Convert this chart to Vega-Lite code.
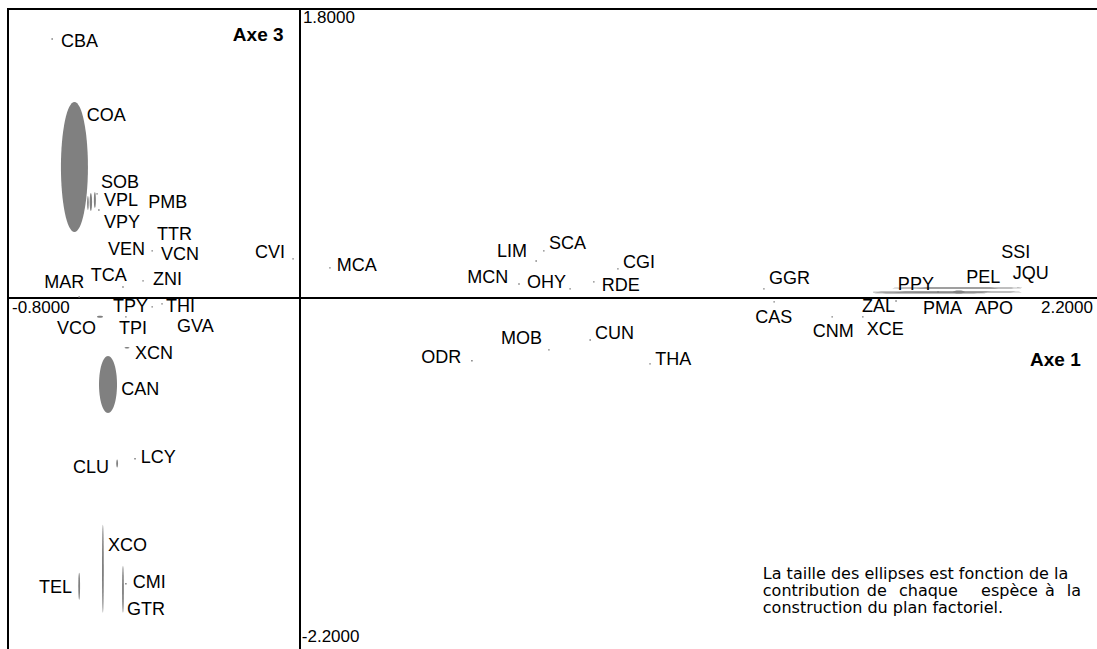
{
  "$schema": "https://vega.github.io/schema/vega-lite/v6.json",
  "width": 1095,
  "height": 642,
  "autosize": {"type": "none"},
  "padding": {"left": 8, "top": 9, "right": 0, "bottom": 0},
  "background": "white",
  "config": {
    "view": {"stroke": "black", "strokeWidth": 2},
    "text": {"font": "Liberation Sans", "color": "black"},
    "axis": {"disable": true}
  },
  "datasets": {
    "origin": [{"v": 0}],
    "ellipses": [
      {"name": "COA", "x": -0.618, "y": 0.816},
      {"name": "CAN", "x": -0.526, "y": -0.539},
      {"name": "XCO", "x": -0.540, "y": -1.687},
      {"name": "GTR", "x": -0.485, "y": -1.815},
      {"name": "TEL", "x": -0.605, "y": -1.796},
      {"name": "CLU", "x": -0.501, "y": -1.031},
      {"name": "VCO", "x": -0.548, "y": -0.118},
      {"name": "XCN", "x": -0.474, "y": -0.311},
      {"name": "SOB", "x": -0.562, "y": 0.610},
      {"name": "VPL", "x": -0.573, "y": 0.598},
      {"name": "VPY", "x": -0.581, "y": 0.592},
      {"name": "PPY", "x": 1.773, "y": 0.037},
      {"name": "PEL", "x": 1.800, "y": 0.062},
      {"name": "PMA", "x": 1.726, "y": 0.031},
      {"name": "APO", "x": 1.805, "y": 0.037}
    ],
    "points": [
      {"name": "CBA", "x": -0.679, "y": 1.613},
      {"name": "SOB", "x": -0.556, "y": 0.648},
      {"name": "VPL", "x": -0.551, "y": 0.548},
      {"name": "VEN", "x": -0.405, "y": 0.293},
      {"name": "CVI", "x": -0.019, "y": 0.243},
      {"name": "MAR", "x": -0.605, "y": 0.006},
      {"name": "TCA", "x": -0.485, "y": 0.068},
      {"name": "ZNI", "x": -0.430, "y": 0.106},
      {"name": "TPY", "x": -0.405, "y": -0.056},
      {"name": "THI", "x": -0.378, "y": -0.037},
      {"name": "TPI", "x": -0.477, "y": -0.118},
      {"name": "LCY", "x": -0.452, "y": -1.002},
      {"name": "CMI", "x": -0.477, "y": -1.781},
      {"name": "MCA", "x": 0.082, "y": 0.187},
      {"name": "LIM", "x": 0.647, "y": 0.230},
      {"name": "SCA", "x": 0.668, "y": 0.293},
      {"name": "CGI", "x": 0.871, "y": 0.181},
      {"name": "MCN", "x": 0.600, "y": 0.087},
      {"name": "OHY", "x": 0.740, "y": 0.056},
      {"name": "RDE", "x": 0.805, "y": 0.100},
      {"name": "MOB", "x": 0.682, "y": -0.324},
      {"name": "CUN", "x": 0.795, "y": -0.262},
      {"name": "ODR", "x": 0.471, "y": -0.392},
      {"name": "THA", "x": 0.959, "y": -0.411},
      {"name": "GGR", "x": 1.271, "y": 0.056},
      {"name": "CAS", "x": 1.299, "y": -0.025},
      {"name": "CNM", "x": 1.458, "y": -0.118},
      {"name": "ZAL", "x": 1.633, "y": -0.019},
      {"name": "XCE", "x": 1.542, "y": -0.118},
      {"name": "PPY", "x": 1.748, "y": 0.037}
    ],
    "labels": [
      {"name": "CBA", "lx": -0.655, "ly": 1.594},
      {"name": "COA", "lx": -0.584, "ly": 1.133},
      {"name": "SOB", "lx": -0.545, "ly": 0.716},
      {"name": "VPL", "lx": -0.537, "ly": 0.604},
      {"name": "PMB", "lx": -0.416, "ly": 0.592},
      {"name": "VPY", "lx": -0.537, "ly": 0.467},
      {"name": "TTR", "lx": -0.392, "ly": 0.392},
      {"name": "VEN", "lx": -0.526, "ly": 0.299},
      {"name": "VCN", "lx": -0.381, "ly": 0.268},
      {"name": "CVI", "lx": -0.123, "ly": 0.280},
      {"name": "MAR", "lx": -0.701, "ly": 0.093},
      {"name": "TCA", "lx": -0.573, "ly": 0.137},
      {"name": "ZNI", "lx": -0.403, "ly": 0.112},
      {"name": "TPY", "lx": -0.512, "ly": -0.056},
      {"name": "THI", "lx": -0.367, "ly": -0.056},
      {"name": "VCO", "lx": -0.666, "ly": -0.193},
      {"name": "TPI", "lx": -0.496, "ly": -0.193},
      {"name": "GVA", "lx": -0.337, "ly": -0.181},
      {"name": "XCN", "lx": -0.452, "ly": -0.349},
      {"name": "CAN", "lx": -0.490, "ly": -0.573},
      {"name": "CLU", "lx": -0.622, "ly": -1.059},
      {"name": "LCY", "lx": -0.436, "ly": -0.996},
      {"name": "XCO", "lx": -0.526, "ly": -1.544},
      {"name": "TEL", "lx": -0.715, "ly": -1.806},
      {"name": "CMI", "lx": -0.458, "ly": -1.775},
      {"name": "GTR", "lx": -0.474, "ly": -1.943},
      {"name": "MCA", "lx": 0.101, "ly": 0.199},
      {"name": "LIM", "lx": 0.540, "ly": 0.286},
      {"name": "SCA", "lx": 0.682, "ly": 0.336},
      {"name": "CGI", "lx": 0.885, "ly": 0.218},
      {"name": "MCN", "lx": 0.458, "ly": 0.125},
      {"name": "OHY", "lx": 0.622, "ly": 0.093},
      {"name": "RDE", "lx": 0.827, "ly": 0.075},
      {"name": "MOB", "lx": 0.551, "ly": -0.255},
      {"name": "CUN", "lx": 0.808, "ly": -0.224},
      {"name": "ODR", "lx": 0.332, "ly": -0.374},
      {"name": "THA", "lx": 0.973, "ly": -0.386},
      {"name": "GGR", "lx": 1.285, "ly": 0.118},
      {"name": "CAS", "lx": 1.247, "ly": -0.125},
      {"name": "CNM", "lx": 1.405, "ly": -0.212},
      {"name": "ZAL", "lx": 1.540, "ly": -0.056},
      {"name": "XCE", "lx": 1.553, "ly": -0.199},
      {"name": "PPY", "lx": 1.638, "ly": 0.081},
      {"name": "PEL", "lx": 1.825, "ly": 0.125},
      {"name": "SSI", "lx": 1.921, "ly": 0.280},
      {"name": "JQU", "lx": 1.953, "ly": 0.149},
      {"name": "PMA", "lx": 1.707, "ly": -0.068},
      {"name": "APO", "lx": 1.849, "ly": -0.068}
    ],
    "ticks": [
      {"text": "1.8000", "lx": 0.008, "ly": 1.743},
      {"text": "-2.2000", "lx": 0.005, "ly": -2.111},
      {"text": "-0.8000", "lx": -0.789, "ly": -0.062},
      {"text": "2.2000", "lx": 2.030, "ly": -0.062}
    ],
    "titles": [
      {"text": "Axe 3", "lx": -0.184, "ly": 1.638},
      {"text": "Axe 1", "lx": 2.0, "ly": -0.386}
    ],
    "note": [
      {"text": "La taille des ellipses est fonction de la", "lx": 1.268, "ly": -1.750},
      {"text": "contribution", "lx": 1.268, "ly": -1.856},
      {"text": "de", "lx": 1.553, "ly": -1.856},
      {"text": "chaque", "lx": 1.641, "ly": -1.856},
      {"text": "espèce", "lx": 1.866, "ly": -1.856},
      {"text": "à", "lx": 2.041, "ly": -1.856},
      {"text": "la", "lx": 2.101, "ly": -1.856},
      {"text": "construction du plan factoriel.", "lx": 1.268, "ly": -1.961}
    ]
  },
  "layer": [
    {
      "data": {"name": "origin"},
      "mark": {"type": "rule", "color": "black", "strokeWidth": 2},
      "encoding": {
        "x": {"field": "v", "type": "quantitative", "axis": null, "scale": {"domain": [-0.8, 2.2], "nice": false, "zero": false}}
      }
    },
    {
      "data": {"name": "origin"},
      "mark": {"type": "rule", "color": "black", "strokeWidth": 2},
      "encoding": {
        "y": {"field": "v", "type": "quantitative", "axis": null, "scale": {"domain": [-2.2, 1.8], "nice": false, "zero": false}}
      }
    },
    {
      "data": {"name": "ellipses"},
      "mark": {"type": "point", "filled": true, "size": 4, "color": "#808080", "opacity": 1, "strokeWidth": 0},
      "encoding": {
        "x": {"field": "x", "type": "quantitative", "axis": null, "scale": {"domain": [-0.8, 2.2], "nice": false, "zero": false}},
        "y": {"field": "y", "type": "quantitative", "axis": null, "scale": {"domain": [-2.2, 1.8], "nice": false, "zero": false}},
        "shape": {
          "field": "name",
          "type": "nominal",
          "legend": null,
          "scale": {
            "domain": ["COA", "CAN", "XCO", "GTR", "TEL", "CLU", "VCO", "XCN", "SOB", "VPL", "VPY", "PPY", "PEL", "PMA", "APO"],
            "range": [
              "M -13.5 0 A 13.5 65 0 1 0 13.5 0 A 13.5 65 0 1 0 -13.5 0 Z",
              "M -9 0 A 9 28.5 0 1 0 9 0 A 9 28.5 0 1 0 -9 0 Z",
              "M -0.9 0 A 0.9 44 0 1 0 0.9 0 A 0.9 44 0 1 0 -0.9 0 Z",
              "M -0.9 0 A 0.9 23.5 0 1 0 0.9 0 A 0.9 23.5 0 1 0 -0.9 0 Z",
              "M -0.9 0 A 0.9 13.5 0 1 0 0.9 0 A 0.9 13.5 0 1 0 -0.9 0 Z",
              "M -0.9 0 A 0.9 4 0 1 0 0.9 0 A 0.9 4 0 1 0 -0.9 0 Z",
              "M -3 0 A 3 1 0 1 0 3 0 A 3 1 0 1 0 -3 0 Z",
              "M -2.5 0 A 2.5 0.8 0 1 0 2.5 0 A 2.5 0.8 0 1 0 -2.5 0 Z",
              "M -1 0 A 1 8 0 1 0 1 0 A 1 8 0 1 0 -1 0 Z",
              "M -1.2 0 A 1.2 9 0 1 0 1.2 0 A 1.2 9 0 1 0 -1.2 0 Z",
              "M -0.8 0 A 0.8 7 0 1 0 0.8 0 A 0.8 7 0 1 0 -0.8 0 Z",
              "M -75 0 A 75 0.7 0 1 0 75 0 A 75 0.7 0 1 0 -75 0 Z",
              "M -65 0 A 65 0.8 0 1 0 65 0 A 65 0.8 0 1 0 -65 0 Z",
              "M -57 0 A 57 0.6 0 1 0 57 0 A 57 0.6 0 1 0 -57 0 Z",
              "M -6 0 A 6 1.5 0 1 0 6 0 A 6 1.5 0 1 0 -6 0 Z"
            ]
          }
        }
      }
    },
    {
      "data": {"name": "points"},
      "mark": {"type": "point", "shape": "square", "filled": true, "size": 2, "color": "#777777", "opacity": 1},
      "encoding": {
        "x": {"field": "x", "type": "quantitative", "axis": null, "scale": {"domain": [-0.8, 2.2], "nice": false, "zero": false}},
        "y": {"field": "y", "type": "quantitative", "axis": null, "scale": {"domain": [-2.2, 1.8], "nice": false, "zero": false}}
      }
    },
    {
      "data": {"name": "labels"},
      "mark": {"type": "text", "align": "left", "baseline": "middle", "fontSize": 18},
      "encoding": {
        "x": {"field": "lx", "type": "quantitative", "axis": null, "scale": {"domain": [-0.8, 2.2], "nice": false, "zero": false}},
        "y": {"field": "ly", "type": "quantitative", "axis": null, "scale": {"domain": [-2.2, 1.8], "nice": false, "zero": false}},
        "text": {"field": "name"}
      }
    },
    {
      "data": {"name": "ticks"},
      "mark": {"type": "text", "align": "left", "baseline": "middle", "fontSize": 17},
      "encoding": {
        "x": {"field": "lx", "type": "quantitative", "axis": null, "scale": {"domain": [-0.8, 2.2], "nice": false, "zero": false}},
        "y": {"field": "ly", "type": "quantitative", "axis": null, "scale": {"domain": [-2.2, 1.8], "nice": false, "zero": false}},
        "text": {"field": "text"}
      }
    },
    {
      "data": {"name": "titles"},
      "mark": {"type": "text", "align": "left", "baseline": "middle", "fontSize": 19, "fontWeight": "bold"},
      "encoding": {
        "x": {"field": "lx", "type": "quantitative", "axis": null, "scale": {"domain": [-0.8, 2.2], "nice": false, "zero": false}},
        "y": {"field": "ly", "type": "quantitative", "axis": null, "scale": {"domain": [-2.2, 1.8], "nice": false, "zero": false}},
        "text": {"field": "text"}
      }
    },
    {
      "data": {"name": "note"},
      "mark": {"type": "text", "align": "left", "baseline": "alphabetic", "fontSize": 16, "font": "DejaVu Sans"},
      "encoding": {
        "x": {"field": "lx", "type": "quantitative", "axis": null, "scale": {"domain": [-0.8, 2.2], "nice": false, "zero": false}},
        "y": {"field": "ly", "type": "quantitative", "axis": null, "scale": {"domain": [-2.2, 1.8], "nice": false, "zero": false}},
        "text": {"field": "text"}
      }
    }
  ]
}
